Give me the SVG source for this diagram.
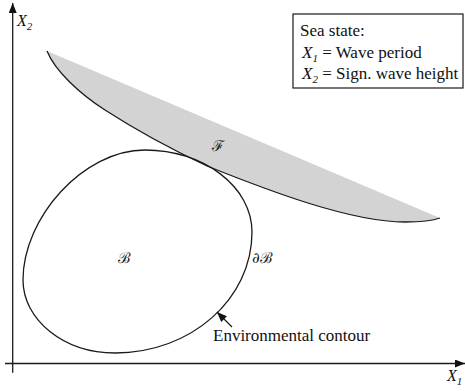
<svg xmlns="http://www.w3.org/2000/svg" width="465" height="391" viewBox="0 0 465 391">
<defs>
<style>
.t{font-family:"Liberation Serif","Times New Roman",serif;font-size:17px;fill:#111}
.i{font-style:italic}
.s{font-size:11px;font-style:italic}
.sc{font-family:"DejaVu Serif","Liberation Serif",serif;font-size:15px;fill:#222}
.ln{fill:none;stroke:#1a1a1a;stroke-width:1.3}
</style>
<marker id="ah" viewBox="0 0 10 8" refX="10" refY="4" markerWidth="10" markerHeight="8" markerUnits="userSpaceOnUse" orient="auto">
<path d="M0,0 L10,4 L0,8 Z" fill="#111"/>
</marker>
</defs>
<rect width="465" height="391" fill="#fff"/>
<g id="failure-region">
<path d="M47,51 C55,71 80,94 105,110 C139,132 173,150 207,166 C267,190 350,222 405,222 C420,222 432,221 440,218 Z" fill="#d3d3d3" stroke="none"/>
<path class="ln" d="M47,51 C55,71 80,94 105,110 C139,132 173,150 207,166 C267,190 350,222 405,222 C420,222 432,221 440,218"/>
<text class="sc" x="218" y="151" text-anchor="middle">ℱ</text>
</g>
<g id="contour">
<path class="ln" d="M145,150 C204,150 252,187 252,232 C252,299 191,353 115,353 C64,353 23,320 23,280 C23,218 83,150 145,150 Z"/>
<text class="sc" x="124" y="263" text-anchor="middle">ℬ</text>
<text class="sc" x="252" y="263">∂ℬ</text>
</g>
<g id="legend">
<rect x="293" y="14" width="170" height="74" fill="#fff" stroke="#1a1a1a" stroke-width="1.2"/>
<text class="t" x="300" y="36">Sea state:</text>
<text class="t" x="302" y="57.5"><tspan class="i">X</tspan><tspan class="s" dy="4">1</tspan><tspan dy="-4"> = Wave period</tspan></text>
<text class="t" x="302" y="79"><tspan class="i">X</tspan><tspan class="s" dy="4">2</tspan><tspan dy="-4"> = Sign. wave height</tspan></text>
</g>
<g id="axis-labels">
<text class="t i" x="17" y="26" style="font-size:16px">X<tspan class="s" dy="4">2</tspan></text>
<text class="t i" x="447" y="381" style="font-size:16px">X<tspan class="s" dy="4">1</tspan></text>
<text class="t" x="213" y="341">Environmental contour</text>
</g>
<g id="connectors">
<line class="ln" x1="12.7" y1="372.7" x2="12.7" y2="3" marker-end="url(#ah)"/>
<line class="ln" x1="5" y1="363.5" x2="465" y2="363.5" marker-end="url(#ah)"/>
<line class="ln" x1="232" y1="327" x2="217" y2="312" marker-end="url(#ah)"/>
</g>
</svg>
